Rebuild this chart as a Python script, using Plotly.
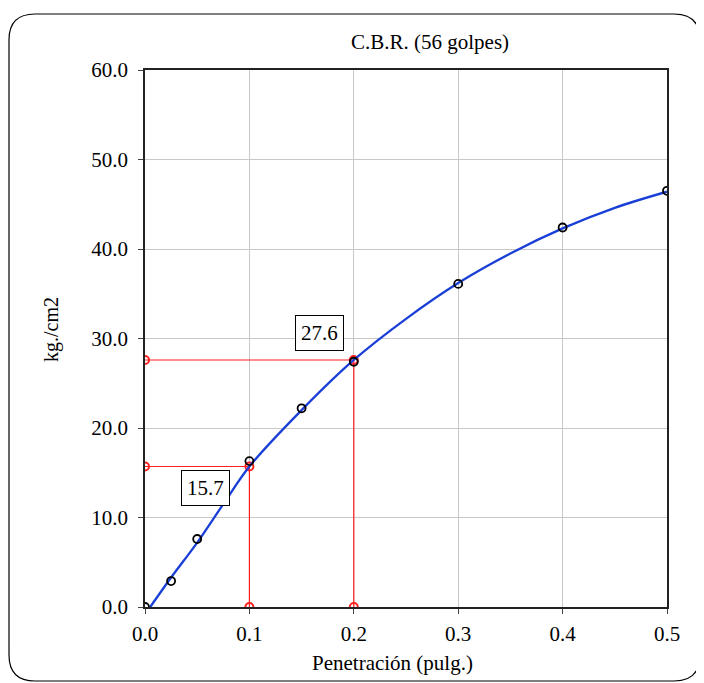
import plotly.graph_objects as go

# measured points
pen = [0.0, 0.025, 0.05, 0.1, 0.15, 0.2, 0.3, 0.4, 0.5]
load = [0.0, 2.9, 7.6, 16.3, 22.2, 27.4, 36.1, 42.4, 46.5]

# fitted curve
curve_x = [0.005, 0.025, 0.05, 0.075, 0.1, 0.15, 0.2, 0.25, 0.3, 0.35, 0.4, 0.45, 0.5]
curve_y = [0.0, 3.3, 7.2, 11.5, 15.7, 22.0, 27.6, 32.2, 36.2, 39.5, 42.3, 44.6, 46.4]

# corrected values at 0.1 and 0.2
cbr_x = [0.1, 0.2]
cbr_y = [15.7, 27.6]
label_pos = [(0.0575, 13.3), (0.1667, 30.6)]

OFF = 8  # page body margin
W, H = 704 - OFF, 683 - OFF
L, T = 145 - OFF, 70 - OFF
pw, ph = 522, 537
R, B = W - L - pw, H - T - ph

# screen pixel -> paper coordinates
def px(x):
    return (x - OFF - L) / pw

def py(y):
    return (T + ph + OFF - y) / ph

serif = "Liberation Serif"
red = "#ff2020"

fig = go.Figure()

for xv, yv in zip(cbr_x, cbr_y):
    fig.add_trace(go.Scatter(x=[0, xv, xv], y=[yv, yv, 0], mode="lines+markers",
                             line=dict(color=red, width=1.2),
                             marker=dict(symbol="circle-open", size=8, color=red, line=dict(width=2)),
                             hoverinfo="skip"))

fig.add_trace(go.Scatter(x=curve_x, y=curve_y, mode="lines", line_shape="spline",
                         line=dict(color="#1a3fd6", width=2.3)))
fig.add_trace(go.Scatter(x=pen, y=load, mode="markers",
                         marker=dict(symbol="circle-open", size=8, color="black", line=dict(width=1.8))))

for (ax, ay), v in zip(label_pos, cbr_y):
    fig.add_annotation(x=ax, y=ay, text=f"{v:.1f}", showarrow=False,
                       xanchor="center", yanchor="middle",
                       font=dict(family=serif, size=21, color="black"),
                       bgcolor="white", bordercolor="black", borderwidth=1, borderpad=5)

fig.add_annotation(xref="paper", yref="paper", x=px(430), y=py(42), text="C.B.R. (56 golpes)",
                   xanchor="center", yanchor="middle",
                   showarrow=False, font=dict(family=serif, size=21, color="black"))
fig.add_annotation(xref="paper", yref="paper", x=px(392), y=py(663), text="Penetración (pulg.)",
                   xanchor="center", yanchor="middle",
                   showarrow=False, font=dict(family=serif, size=21, color="black"))
fig.add_annotation(xref="paper", yref="paper", x=px(51), y=py(330), text="kg./cm2", textangle=-90,
                   xanchor="center", yanchor="middle",
                   showarrow=False, font=dict(family=serif, size=20, color="black"))

# rounded frame around the whole chart
x0, x1, y0, y1, r = 9, 700, 14, 681, 26
path = (f"M {px(x0 + r)},{py(y0)} L {px(x1 - r)},{py(y0)} "
        f"Q {px(x1)},{py(y0)} {px(x1)},{py(y0 + r)} L {px(x1)},{py(y1 - r)} "
        f"Q {px(x1)},{py(y1)} {px(x1 - r)},{py(y1)} L {px(x0 + r)},{py(y1)} "
        f"Q {px(x0)},{py(y1)} {px(x0)},{py(y1 - r)} L {px(x0)},{py(y0 + r)} "
        f"Q {px(x0)},{py(y0)} {px(x0 + r)},{py(y0)} Z")
fig.add_shape(type="path", path=path, xref="paper", yref="paper",
              line=dict(color="black", width=1.2))

axis_common = dict(showline=True, linecolor="#222222", linewidth=1.8, mirror=True,
                   showgrid=True, gridcolor="#c8c8c8", gridwidth=1,
                   ticks="outside", ticklen=5, tickcolor="#444444",
                   tickfont=dict(family=serif, size=21, color="black"), zeroline=False)

fig.update_xaxes(range=[0, 0.5], tickvals=[0, 0.1, 0.2, 0.3, 0.4, 0.5], tickformat=".1f",
                 ticklabelstandoff=2, **axis_common)
fig.update_yaxes(range=[0, 60], tickvals=[0, 10, 20, 30, 40, 50, 60], tickformat=".1f",
                 ticklabelstandoff=6, **axis_common)

fig.update_layout(width=W, height=H, margin=dict(l=L, r=R, t=T, b=B),
                  plot_bgcolor="white", paper_bgcolor="white", showlegend=False)

fig.write_html("out.html")
